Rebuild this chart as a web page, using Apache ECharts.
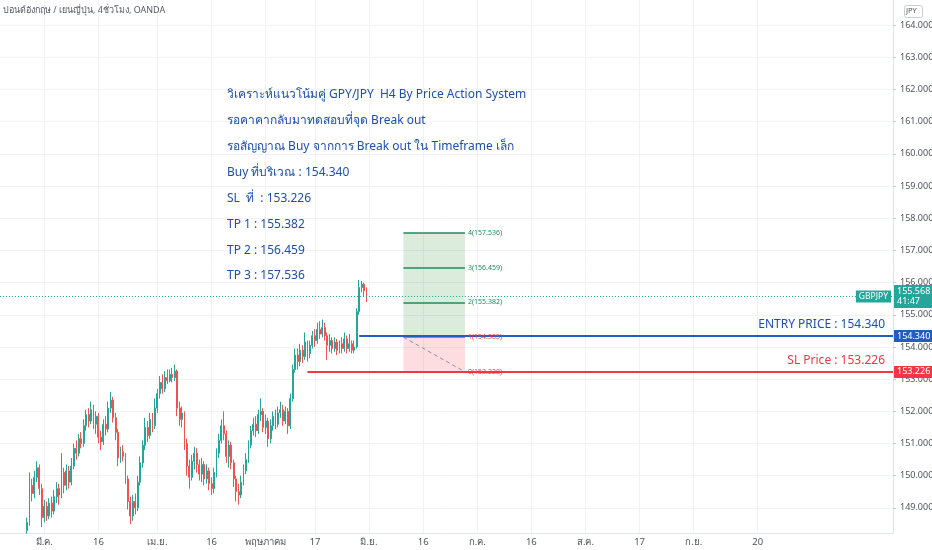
<!DOCTYPE html>
<html><head><meta charset="utf-8">
<script src="https://cdn.jsdelivr.net/npm/echarts@6/dist/echarts.min.js"></script>
<style>html,body{margin:0;padding:0;background:#fff;overflow:hidden}#c{width:932px;height:550px}</style>
</head><body><div id="c"></div><script>
// ---- data ----
const firstDay = '2021-02-16';
const slotCount = 364; // half-trading-day slots
const tickDates = ['2021-03-01','2021-03-16','2021-04-01','2021-04-16','2021-05-03','2021-05-17','2021-06-01','2021-06-16','2021-07-01','2021-07-16','2021-08-02','2021-08-17','2021-09-01','2021-09-20'];
const tickTexts = ['มี.ค.','16','เม.ย.','16','พฤษภาคม','17','มิ.ย.','16','ก.ค.','16','ส.ค.','17','ก.ย.','20'];
const priceTicks = [149,150,151,152,153,154,155,156,157,158,159,160,161,162,163,164];
const candleStart = '2021-02-23 PM';
// [open, close, low, high]
const candles = [
[148.30,148.55,148.20,148.70],[148.55,149.70,148.45,150.10],[149.70,149.45,149.20,149.90],[149.45,149.95,149.30,150.15],
[149.95,150.25,149.80,150.45],[150.25,149.60,149.40,150.35],[149.60,148.70,148.40,149.75],[148.70,149.05,148.55,149.25],
[149.05,148.75,148.60,149.20],[148.75,149.15,148.65,149.30],[149.15,148.90,148.70,149.35],[148.90,149.35,148.80,149.55],
[149.35,149.60,149.15,149.80],[149.60,149.40,149.10,149.75],[149.40,150.10,149.30,150.70],[150.10,149.70,149.45,150.25],
[149.70,150.15,149.55,150.35],[150.15,149.80,149.60,150.30],[149.80,150.30,149.70,150.55],[150.30,150.85,150.20,151.00],
[150.85,150.70,150.50,151.10],[150.70,151.15,150.60,151.30],[151.15,151.00,150.85,151.35],[151.00,151.55,150.90,151.75],
[151.55,151.90,151.40,152.05],[151.90,151.70,151.50,152.10],[151.70,152.05,151.60,152.30],[152.05,151.60,151.45,152.20],
[151.60,151.85,151.30,152.00],[151.85,151.20,151.00,151.95],[151.20,151.05,150.80,151.40],[151.05,151.60,150.95,151.75],
[151.60,151.45,151.25,151.85],[151.45,152.10,151.35,152.30],[152.10,152.35,151.95,152.60],[152.35,151.80,151.65,152.45],
[151.80,151.35,151.10,151.95],[151.35,150.55,150.30,151.45],[150.55,150.75,150.40,150.90],[150.75,150.60,150.45,150.95],
[150.60,149.90,149.75,150.70],[149.90,149.20,148.95,150.00],[149.20,148.75,148.50,149.35],[148.75,149.20,148.60,149.40],
[149.20,149.00,148.80,149.45],[149.00,149.80,148.90,150.00],[149.80,150.40,149.70,150.60],[150.40,150.95,150.25,151.10],
[150.95,151.50,150.80,151.80],[151.50,151.25,151.05,151.70],[151.25,151.75,151.15,151.95],[151.75,151.55,151.35,151.95],
[151.55,152.10,151.45,152.40],[152.10,152.55,151.95,152.70],[152.55,152.90,152.40,153.10],[152.90,152.70,152.55,153.15],
[152.70,153.05,152.60,153.25],[153.05,152.95,152.85,153.30],[152.95,153.15,152.90,153.30],[153.15,153.05,152.90,153.35],
[153.05,153.25,152.95,153.45],[153.25,152.10,151.85,153.30],[152.10,151.75,151.55,152.30],[151.75,151.95,151.50,152.15],
[151.95,151.00,150.80,152.00],[151.00,150.30,150.00,151.15],[150.30,149.95,149.60,150.50],[149.95,150.45,149.85,150.65],
[150.45,150.70,150.20,150.90],[150.70,150.35,150.10,150.85],[150.35,150.05,149.85,150.50],[150.05,150.35,149.80,150.55],
[150.35,149.90,149.70,150.45],[149.90,150.15,149.75,150.35],[150.15,149.75,149.55,150.25],[149.75,149.60,149.40,149.95],
[149.60,150.10,149.45,150.25],[150.10,150.70,149.95,150.85],[150.70,151.10,150.55,151.30],[151.10,151.55,151.00,151.75],
[151.55,151.30,151.10,152.00],[151.30,150.60,150.40,151.40],[150.60,150.95,150.25,151.10],[150.95,150.40,150.20,151.05],
[150.40,149.90,149.65,150.50],[149.90,149.50,149.20,150.00],[149.50,149.40,149.10,149.75],[149.40,149.80,149.30,150.00],
[149.80,150.15,149.70,150.35],[150.15,150.50,150.05,150.70],[150.50,150.95,150.40,151.10],[150.95,151.40,150.85,151.55],
[151.40,151.60,151.25,151.80],[151.60,151.40,151.20,151.85],[151.40,151.90,151.30,152.05],[151.90,152.00,151.70,152.40],
[152.00,151.50,151.35,152.10],[151.50,151.70,151.30,151.90],[151.70,151.15,150.90,151.80],[151.15,151.55,151.00,151.75],
[151.55,151.85,151.40,152.00],[151.85,151.60,151.45,152.05],[151.60,151.95,151.50,152.15],[151.95,152.05,151.80,152.30],
[152.05,151.70,151.55,152.20],[151.70,152.00,151.60,152.15],[152.00,151.55,151.30,152.10],[151.55,152.40,151.45,152.55],
[152.40,153.30,152.30,153.45],[153.30,153.75,153.20,153.95],[153.75,153.55,153.30,153.95],[153.55,153.90,153.40,154.10],
[153.90,153.70,153.50,154.05],[153.70,154.15,153.60,154.45],[154.15,153.80,153.55,154.20],[153.80,154.05,153.65,154.20],
[154.05,154.35,153.95,154.50],[154.35,154.20,154.00,154.55],[154.20,154.55,154.10,154.75],[154.55,154.40,154.25,154.80],
[154.40,154.60,154.30,154.85],[154.60,154.35,154.20,154.75],[154.35,154.05,153.60,154.45],[154.05,154.20,153.85,154.40],
[154.20,153.95,153.80,154.30],[153.95,154.15,153.85,154.30],[154.15,153.90,153.75,154.25],[153.90,154.10,153.80,154.20],
[154.10,153.95,153.80,154.30],[153.95,154.25,153.85,154.45],[154.25,153.95,153.80,154.35],[153.95,154.10,153.85,154.40],
[154.10,153.90,153.80,154.20],[153.90,154.00,153.80,154.20],[154.00,155.10,153.95,155.20],[155.10,155.85,155.00,156.08],
[155.85,155.95,155.70,156.05],[155.95,155.75,155.55,156.00],[155.75,155.568,155.40,155.85]
];
const symbolName = 'GBPJPY';
const lastPrice = 155.568;
const countdown = '41:47';
const entryPrice = 154.340, entryFrom = '2021-05-28 AM';
const slPrice = 153.226, slFrom = '2021-05-13 PM';
const posFrom = '2021-06-10 AM', posTo = '2021-06-28 PM';
const posEntry = 154.305, posStop = 153.228;
const posTargets = [155.382, 156.459, 157.536];
const titleText = 'ปอนด์อังกฤษ / เยนญี่ปุ่น, 4ชั่วโมง, OANDA';
const noteLines = [
 'วิเคราะห์แนวโน้มคู่ GPY/JPY  H4 By Price Action System',
 'รอคาคากลับมาทดสอบที่จุด Break out',
 'รอสัญญาณ Buy จากการ Break out ใน Timeframe เล็ก',
 'Buy ที่บริเวณ : 154.340',
 'SL  ที่  : 153.226',
 'TP 1 : 155.382',
 'TP 2 : 156.459',
 'TP 3 : 157.536'
];

// ---- build ----
const categories = [];
let d = new Date(firstDay + 'T00:00:00Z');
while (categories.length < slotCount) {
  const wd = d.getUTCDay();
  if (wd !== 0 && wd !== 6) {
    const s = d.toISOString().slice(0, 10);
    categories.push(s + ' AM');
    if (categories.length < slotCount) categories.push(s + ' PM');
  }
  d = new Date(d.getTime() + 86400000);
}
const tickMap = {};
tickDates.forEach((t, i) => { tickMap[t + ' AM'] = tickTexts[i]; });
const idx = name => categories.indexOf(name);
const lastIdx = categories.length - 1;
const startIdx = idx(candleStart);
const candleData = candles.map((c, i) => [startIdx + i, c[0], c[1], c[2], c[3]]);

const FONT = '"Noto Sans", "DejaVu Sans", sans-serif';
const BLUE = '#1f5fc4', TXTBLUE = '#1f4fa8', RED = '#f23645', TEAL = '#26a69a', GREEN = '#1f8a5e';
const HIDDEN = {width: 0, color: 'rgba(0,0,0,0)', type: 'solid'};

const chart = echarts.init(document.getElementById('c'), null, {renderer: 'canvas'});
const levelLine = (v, color, text) => [
  {coord: [idx(posFrom), v], lineStyle: {color: color, width: 1.5, type: 'solid'},
   label: {show: true, position: 'end', formatter: text, color: color, fontSize: 7, distance: 3, fontFamily: FONT}},
  {coord: [idx(posTo), v]}
];
const axisTag = (v, color, text) => ({
  show: true, position: 'end', distance: 1, formatter: text, backgroundColor: color, color: '#fff',
  fontSize: 9, padding: [2, 3, 1, 3], fontFamily: FONT
});

chart.setOption({
  animation: false,
  backgroundColor: '#ffffff',
  textStyle: {fontFamily: FONT},
  grid: {left: 0, right: 39, top: 0, bottom: 17, containLabel: false, outerBoundsMode: 'none'},
  xAxis: {
    type: 'category', data: categories, boundaryGap: false,
    axisLine: {show: true, lineStyle: {color: '#e0e3eb'}},
    axisTick: {show: false},
    axisLabel: {interval: (i, v) => v in tickMap, formatter: v => tickMap[v] || '', color: '#50535e', fontSize: 9.5, margin: 4, fontFamily: FONT},
    splitLine: {show: true, interval: (i, v) => v in tickMap, lineStyle: {color: '#f0f2f5'}}
  },
  yAxis: {
    type: 'value', position: 'right', min: 148.22, max: 164.78,
    axisLine: {show: true, lineStyle: {color: '#e0e3eb'}},
    axisTick: {show: true, customValues: priceTicks, length: 3, lineStyle: {color: '#c8cbd2'}},
    axisLabel: {customValues: priceTicks, formatter: v => v.toFixed(3), color: '#50535e', fontSize: 9, margin: 7, fontFamily: FONT},
    splitLine: {show: true, lineStyle: {color: '#f0f2f5'}}
  },
  series: [
    {
      type: 'line', data: [], silent: true, z: 1,
      markArea: {
        silent: true,
        data: [
          [{coord: [idx(posFrom), posEntry], itemStyle: {color: 'rgba(56,142,60,0.18)'}}, {coord: [idx(posTo), posTargets[2]]}],
          [{coord: [idx(posFrom), posStop], itemStyle: {color: 'rgba(242,54,69,0.17)'}}, {coord: [idx(posTo), posEntry]}]
        ]
      },
      markLine: {
        silent: true, symbol: 'none',
        data: [
          levelLine(posTargets[2], GREEN, '4(' + posTargets[2].toFixed(3) + ')'),
          levelLine(posTargets[1], GREEN, '3(' + posTargets[1].toFixed(3) + ')'),
          levelLine(posTargets[0], GREEN, '2(' + posTargets[0].toFixed(3) + ')'),
          levelLine(posEntry, RED, '1(' + posEntry.toFixed(3) + ')'),
          levelLine(posStop, RED, '0(' + posStop.toFixed(3) + ')'),
          [{coord: [idx(posFrom), posEntry], lineStyle: {color: '#8f929a', width: 1, type: [4, 3]}, label: {show: false}},
           {coord: [idx(posTo), posStop]}]
        ]
      }
    },
    {
      type: 'candlestick', name: symbolName, data: candleData, z: 3,
      encode: {x: 0, y: [1, 2, 3, 4]},
      barWidth: 1.4,
      itemStyle: {color: TEAL, color0: '#ef5350', borderColor: TEAL, borderColor0: '#ef5350', borderWidth: 1},
      markLine: {
        silent: true, symbol: 'none',
        data: [
          {yAxis: lastPrice, lineStyle: {color: TEAL, type: [1, 2], width: 1},
           label: {show: true, position: 'end', distance: 1, formatter: lastPrice.toFixed(3) + '\n' + countdown,
                   backgroundColor: TEAL, color: '#fff', fontSize: 9, lineHeight: 10, padding: [2, 3, 1, 3], fontFamily: FONT}},
          {yAxis: lastPrice, lineStyle: HIDDEN,
           label: {show: true, position: 'insideEnd', distance: 2, formatter: symbolName,
                   backgroundColor: TEAL, color: '#fff', fontSize: 8.5, padding: [2, 3, 1, 3], fontFamily: FONT}}
        ]
      }
    },
    {
      type: 'line', data: [], silent: true, z: 4,
      markLine: {
        silent: true, symbol: 'none',
        data: [
          [{coord: [idx(entryFrom), entryPrice], lineStyle: {color: BLUE, width: 2, type: 'solid'},
            label: axisTag(entryPrice, BLUE, entryPrice.toFixed(3))},
           {coord: [lastIdx, entryPrice]}],
          [{coord: [idx(entryFrom), entryPrice], lineStyle: HIDDEN,
            label: {show: true, position: 'insideEndTop', distance: [8, 5], formatter: 'ENTRY PRICE : ' + entryPrice.toFixed(3), color: TXTBLUE, fontSize: 12, fontFamily: FONT}},
           {coord: [lastIdx, entryPrice]}],
          [{coord: [idx(slFrom), slPrice], lineStyle: {color: RED, width: 2, type: 'solid'},
            label: axisTag(slPrice, RED, slPrice.toFixed(3))},
           {coord: [lastIdx, slPrice]}],
          [{coord: [idx(slFrom), slPrice], lineStyle: HIDDEN,
            label: {show: true, position: 'insideEndTop', distance: [8, 5], formatter: 'SL Price : ' + slPrice.toFixed(3), color: RED, fontSize: 12, fontFamily: FONT}},
           {coord: [lastIdx, slPrice]}]
        ]
      }
    }
  ],
  graphic: [
    {type: 'text', z: 100, left: 3, top: 6, style: {text: titleText, fill: '#555a63', font: '9px ' + FONT}},
    {type: 'rect', z: 100, left: 904, top: 5, shape: {width: 18, height: 12, r: 2}, style: {fill: '#fff', stroke: '#c9ccd3', lineWidth: 1}},
    {type: 'text', z: 101, left: 906, top: 7, style: {text: 'JPY', fill: '#50535e', font: '7.5px ' + FONT}},
    {type: 'group', z: 100, left: 227, top: 89, children: noteLines.map((t, i) => ({
      type: 'text', z: 100, x: 0, y: i * 25.85,
      style: {text: t, fill: TXTBLUE, font: '12px ' + FONT, textVerticalAlign: 'top'}
    }))}
  ]
});
</script></body></html>
